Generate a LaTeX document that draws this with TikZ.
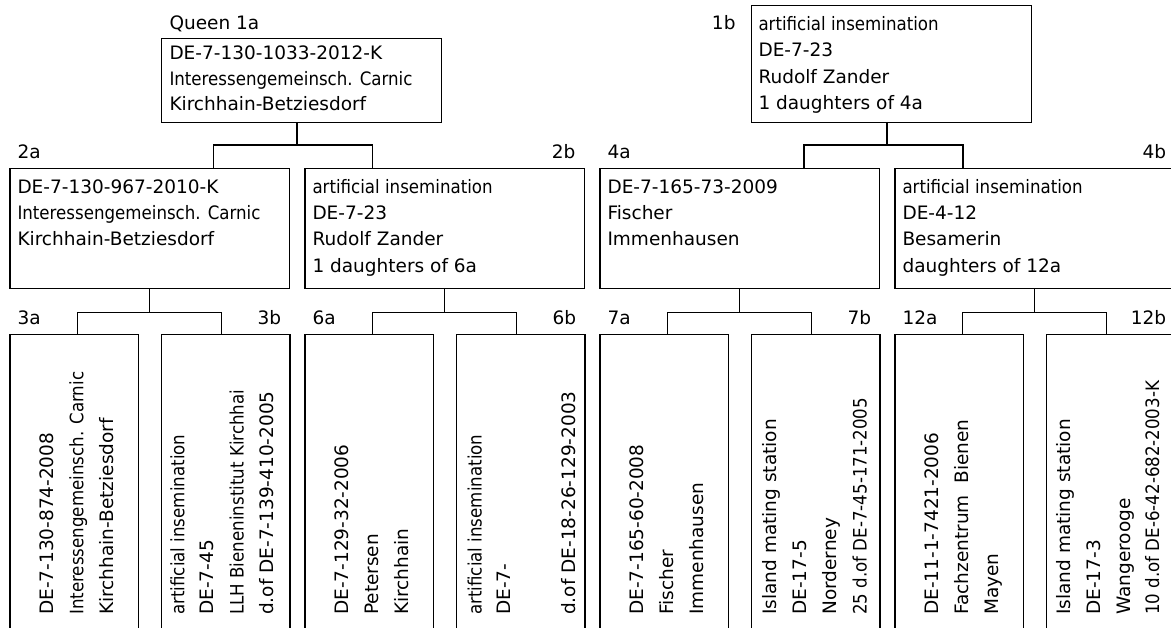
\documentclass[tikz,border=0pt]{standalone}
\usepackage{fontspec}
\setmainfont{DejaVu Sans}
\usetikzlibrary{calc}
\newcommand{\cnd}[1]{\scalebox{0.9}[1]{#1}}
\begin{document}
\begin{tikzpicture}[x=1pt,y=-1pt,
  box/.style={draw=black, line width=1.2pt, rectangle, inner sep=0pt, anchor=north west},
  topbox/.style={box, minimum width=279.5pt, minimum height=84.6pt},
  midbox/.style={box, minimum width=279.7pt, minimum height=120.6pt},
  lowbox/.style={box, minimum width=128.4pt, minimum height=306.3pt},
  conn/.style={draw=black, line width=1.2pt},
  tl/.style={anchor=base west, inner sep=0pt, font=\fontsize{18.5}{22}\selectfont},
  tr/.style={anchor=base east, inner sep=0pt, font=\fontsize{18.5}{22}\selectfont},
  rt/.style={anchor=base west, inner sep=0pt, rotate=90, font=\fontsize{18.5}{22}\selectfont}]
\useasboundingbox (0,0) rectangle (1171,628);
\clip (0,0) rectangle (1171,628);
\fill[white] (0,0) rectangle (1171,628);

% ---------- top row
\node[topbox] (n1a) at (161,37.7) {};
\node[box, minimum width=279.5pt, minimum height=117pt] (n1b) at (751,5) {};
\node[tl] (l1a) at (169.3,30) {Queen 1a};
\node[tr] (l1b) at (735.7,30) {1b};
\node[tl] (t1a1) at (169.3,60) {DE-7-130-1033-2012-K};
\node[tl] (t1a2) at (169.3,85.5) {\cnd{Interessengemeinsch. Carnic}};
\node[tl] (t1a3) at (169.3,111) {Kirchhain-Betziesdorf};
\node[tl] (t1b1) at (758.3,30.7) {\cnd{artificial insemination}};
\node[tl] (t1b2) at (758.3,57) {DE-7-23};
\node[tl] (t1b3) at (758.3,83.3) {Rudolf Zander};
\node[tl] (t1b4) at (758.3,109.7) {1 daughters of 4a};

% ---------- middle row
\node[midbox] (n2a) at (9.3,167.7) {};
\node[midbox] (n2b) at (304.3,167.7) {};
\node[midbox] (n4a) at (599.3,167.7) {};
\node[midbox] (n4b) at (894.3,167.7) {};
\node[tl] (l2a) at (17.3,158.3) {2a};
\node[tr] (l2b) at (575.5,158.3) {2b};
\node[tl] (l4a) at (607.3,158.3) {4a};
\node[tr] (l4b) at (1166.3,158.3) {4b};
\node[tl] (t2a1) at (17.3,193.3) {DE-7-130-967-2010-K};
\node[tl] (t2a2) at (17.3,219.7) {\cnd{Interessengemeinsch. Carnic}};
\node[tl] (t2a3) at (17.3,246) {Kirchhain-Betziesdorf};
\node[tl] (t2b1) at (312.3,193.3) {\cnd{artificial insemination}};
\node[tl] (t2b2) at (312.3,219.7) {DE-7-23};
\node[tl] (t2b3) at (312.3,246) {Rudolf Zander};
\node[tl] (t2b4) at (312.3,272.3) {1 daughters of 6a};
\node[tl] (t4a1) at (607.3,193.3) {DE-7-165-73-2009};
\node[tl] (t4a2) at (607.3,219.7) {Fischer};
\node[tl] (t4a3) at (607.3,246) {Immenhausen};
\node[tl] (t4b1) at (902.3,193.3) {\cnd{artificial insemination}};
\node[tl] (t4b2) at (902.3,219.7) {DE-4-12};
\node[tl] (t4b3) at (902.3,246) {Besamerin};
\node[tl] (t4b4) at (902.3,272.3) {daughters of 12a};

% ---------- bottom row
\node[lowbox] (n3a) at (9.3,333.7) {};
\node[lowbox] (n3b) at (161,333.7) {};
\node[lowbox] (n6a) at (304.3,333.7) {};
\node[lowbox] (n6b) at (456,333.7) {};
\node[lowbox] (n7a) at (599.3,333.7) {};
\node[lowbox] (n7b) at (751,333.7) {};
\node[lowbox] (n12a) at (894.3,333.7) {};
\node[lowbox] (n12b) at (1046,333.7) {};
\node[tl] (l3a) at (17.3,325) {3a};
\node[tr] (l3b) at (281.3,325) {3b};
\node[tl] (l6a) at (312.3,325) {6a};
\node[tr] (l6b) at (576.3,325) {6b};
\node[tl] (l7a) at (607.3,325) {7a};
\node[tr] (l7b) at (871.3,325) {7b};
\node[tl] (l12a) at (902.3,325) {12a};
\node[tr] (l12b) at (1166.3,325) {12b};

\node[rt] (r3a1) at (53.3,615) {DE-7-130-874-2008};
\node[rt] (r3a2) at (83.3,615) {\cnd{Interessengemeinsch. Carnic}};
\node[rt] (r3a3) at (113.3,615) {Kirchhain-Betziesdorf};
\node[rt] (r3b1) at (184.3,615) {\cnd{artificial insemination}};
\node[rt] (r3b2) at (213.8,615) {DE-7-45};
\node[rt] (r3b3) at (243.5,615) {\cnd{LLH Bieneninstitut Kirchhai}};
\node[rt] (r3b4) at (273.5,615) {d.of DE-7-139-410-2005};
\node[rt] (r6a1) at (348.3,615) {DE-7-129-32-2006};
\node[rt] (r6a2) at (378.3,615) {Petersen};
\node[rt] (r6a3) at (408.3,615) {Kirchhain};
\node[rt] (r6b1) at (481.7,615) {\cnd{artificial insemination}};
\node[rt] (r6b2) at (510.5,615) {DE-7-};
\node[rt] (r6b4) at (575,615) {d.of DE-18-26-129-2003};
\node[rt] (r7a1) at (643.3,615) {DE-7-165-60-2008};
\node[rt] (r7a2) at (673.3,615) {Fischer};
\node[rt] (r7a3) at (703.3,615) {Immenhausen};
\node[rt] (r7b1) at (776.7,615) {Island mating station};
\node[rt] (r7b2) at (806.7,615) {DE-17-5};
\node[rt] (r7b3) at (836.7,615) {Norderney};
\node[rt] (r7b4) at (866.7,615) {\cnd{25 d.of DE-7-45-171-2005}};
\node[rt] (r12a1) at (938.3,615) {DE-11-1-7421-2006};
\node[rt] (r12a2) at (968.3,615) {Fachzentrum\ \ Bienen};
\node[rt] (r12a3) at (998.3,615) {Mayen};
\node[rt] (r12b1) at (1070,615) {Island mating station};
\node[rt] (r12b2) at (1100,615) {DE-17-3};
\node[rt] (r12b3) at (1130,615) {Wangerooge};
\node[rt] (r12b4) at (1159,615) {\cnd{10 d.of DE-6-42-682-2003-K}};

% ---------- connectors
\coordinate (s1a) at (297,122.3);
\coordinate (j1a) at (297,145);
\coordinate (e2a) at (213.3,167.7);
\coordinate (e2b) at (372.3,167.7);
\draw[conn] (s1a) -- (j1a);
\draw[conn] (e2a) |- (j1a) -| (e2b);

\coordinate (s1b) at (887,122);
\coordinate (j1b) at (887,145);
\coordinate (e4a) at (804,167.7);
\coordinate (e4b) at (963,167.7);
\draw[conn] (s1b) -- (j1b);
\draw[conn] (e4a) |- (j1b) -| (e4b);

\foreach \P/\A/\B/\L in {n2a/3a/3b/9.3, n2b/6a/6b/304.3, n4a/7a/7b/599.3, n4b/12a/12b/894.3}{
  \coordinate (j\A) at ($(\P.south)+(0,23.4)$);
  \coordinate (e\A) at (\L+68,333.7);
  \coordinate (e\B) at (\L+212,333.7);
  \draw[conn] (\P.south) -- (j\A);
  \draw[conn] (e\A) |- (j\A) -| (e\B);
}
\end{tikzpicture}
\end{document}
